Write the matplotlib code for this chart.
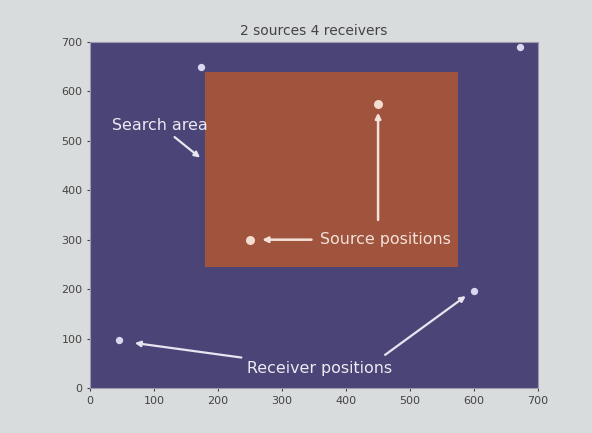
import matplotlib
matplotlib.use("Agg")
import matplotlib.pyplot as plt
from matplotlib.patches import Rectangle

title = "2 sources 4 receivers"
search_x = [180, 575]
search_y = [245, 640]
source_x = [450, 250]
source_y = [575, 300]
receiver_x = [173, 672, 45, 600]
receiver_y = [650, 690, 97, 196]
ticks = [0, 100, 200, 300, 400, 500, 600, 700]

fig = plt.figure(figsize=(5.92, 4.33), dpi=100, facecolor="#d9dcdc")
ax = fig.add_axes([0.152, 0.104, 0.757, 0.799])
ax.set_facecolor("#4b4577")
ax.set_xlim(0, 700)
ax.set_ylim(0, 700)
ax.set_xticks(ticks)
ax.set_yticks(ticks)
ax.tick_params(labelsize=8, colors="#444444", length=2)
for s in ax.spines.values():
    s.set_color("#9a9ab0")

ax.add_patch(Rectangle((search_x[0], search_y[0]), search_x[1] - search_x[0],
                       search_y[1] - search_y[0], facecolor="#a0543e", edgecolor="none"))
ax.scatter(source_x, source_y, s=30, color="#f3dcd0", zorder=3)
ax.scatter(receiver_x, receiver_y, s=18, color="#d8d8ee", zorder=3)

ax.set_title(title, fontsize=10, color="#444444", pad=5)

fs = 11.4
ax.annotate("Search area", xy=(172, 466), xytext=(34, 532), color="#eeeaf4",
            fontsize=fs, arrowprops=dict(arrowstyle="-|>", color="#e8e4f0", lw=1.6,
                                         mutation_scale=8, shrinkA=2, shrinkB=0),
            ha="left", va="center")
ax.annotate("Source positions", xy=(269, 300), xytext=(359, 300), color="#f3e2da",
            fontsize=fs, arrowprops=dict(arrowstyle="-|>", color="#f3e2da", lw=1.8,
                                         mutation_scale=8, shrinkA=4, shrinkB=0),
            ha="left", va="center")
ax.annotate("", xy=(450, 557), xytext=(450, 340),
            arrowprops=dict(arrowstyle="-|>", color="#f3e2da", lw=1.8,
                            mutation_scale=8, shrinkA=0, shrinkB=0))
ax.annotate("Receiver positions", xy=(70, 91), xytext=(245, 40), color="#eeeaf4",
            fontsize=fs, arrowprops=dict(arrowstyle="-|>", color="#e8e4f0", lw=1.6,
                                         mutation_scale=8, shrinkA=2, shrinkB=0),
            ha="left", va="center")
ax.annotate("", xy=(587, 186), xytext=(461, 67),
            arrowprops=dict(arrowstyle="-|>", color="#e8e4f0", lw=1.6,
                            mutation_scale=8, shrinkA=0, shrinkB=0))

fig.savefig("out.png", dpi=100, facecolor=fig.get_facecolor())
